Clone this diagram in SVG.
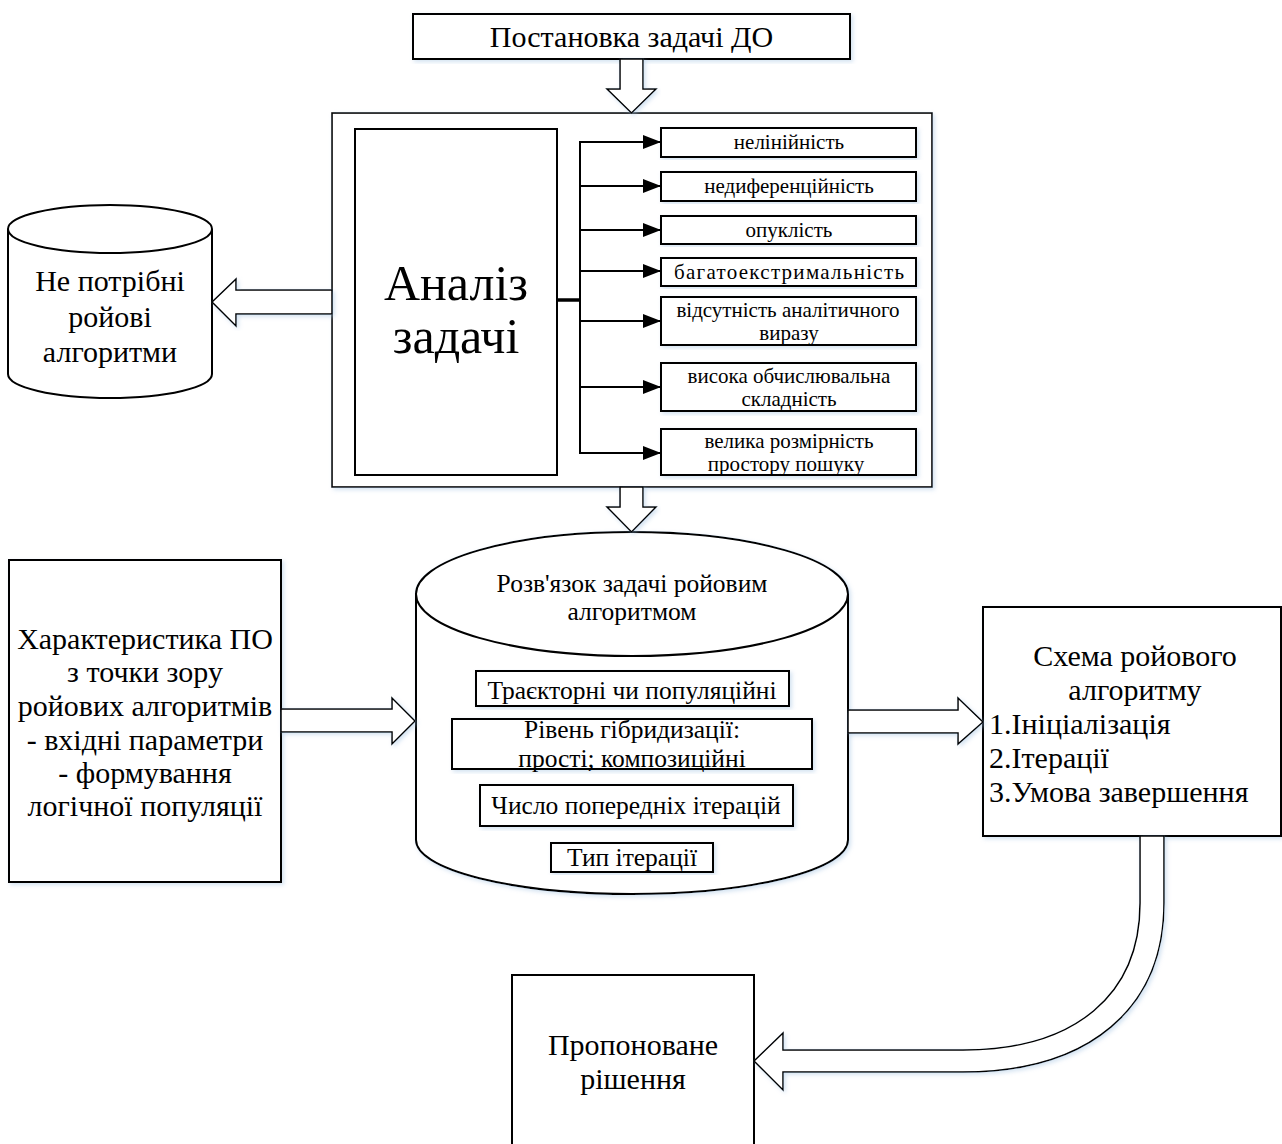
<svg xmlns="http://www.w3.org/2000/svg" width="1282" height="1144" viewBox="0 0 1282 1144">
  <style>
    .box { fill: #ffffff; stroke: #000000; stroke-width: 2; }
    .outer { fill: #ffffff; stroke: #000000; stroke-width: 1.6; }
    .barrow { fill: #ffffff; stroke: #000000; stroke-width: 1.5; stroke-linejoin: miter; }
    .line { fill: none; stroke: #000000; stroke-width: 2; }
    .t { font-family: "Liberation Serif", "Times New Roman", serif; fill: #000000; text-anchor: middle; }
    .big { font-size: 30px; }
    .mid { font-size: 25.5px; }
    .small { font-size: 21px; }
    .huge { font-size: 50px; }
    .left { text-anchor: start; }
  </style>
  <defs>
    <marker id="arr" viewBox="0 0 18 14" refX="18" refY="7" markerWidth="18" markerHeight="14" orient="auto" markerUnits="userSpaceOnUse">
      <path d="M0,0 L18,7 L0,14 Z" fill="#000"/>
    </marker>
    <filter id="sh" x="-5%" y="-5%" width="115%" height="115%">
      <feDropShadow dx="2" dy="2" stdDeviation="2" flood-color="#9dbfe0" flood-opacity="0.45"/>
    </filter>
  </defs>

  <!-- Top node -->
  <g id="postanovka">
    <rect class="box" x="413" y="14" width="437" height="45" filter="url(#sh)"/>
    <text class="t big" x="631.5" y="47">Постановка задачі ДО</text>
  </g>

  <!-- Analysis block -->
  <g id="analiz-outer">
    <rect class="outer" x="332" y="113" width="600" height="374" filter="url(#sh)"/>
  </g>
  <g id="analiz">
    <rect class="box" x="355" y="129" width="202" height="346"/>
    <text class="t huge" x="456" y="300">Аналіз</text>
    <text class="t huge" x="456" y="353">задачі</text>
  </g>

  <g id="f1">
    <rect class="box" x="661" y="128" width="255" height="29" filter="url(#sh)"/>
    <text class="t small" x="789" y="149">нелінійність</text>
  </g>
  <g id="f2">
    <rect class="box" x="661" y="172" width="255" height="29" filter="url(#sh)"/>
    <text class="t small" x="789" y="193">недиференційність</text>
  </g>
  <g id="f3">
    <rect class="box" x="661" y="216" width="255" height="28" filter="url(#sh)"/>
    <text class="t small" x="789" y="237">опуклість</text>
  </g>
  <g id="f4">
    <rect class="box" x="661" y="258" width="255" height="28" filter="url(#sh)"/>
    <text class="t small" x="789" y="279" textLength="230" lengthAdjust="spacing">багатоекстримальність</text>
  </g>
  <g id="f5">
    <rect class="box" x="661" y="297" width="255" height="48" filter="url(#sh)"/>
    <text class="t small" x="788" y="317">відсутність аналітичного</text>
    <text class="t small" x="789" y="340">виразу</text>
  </g>
  <g id="f6">
    <rect class="box" x="661" y="363" width="255" height="48" filter="url(#sh)"/>
    <text class="t small" x="789" y="383">висока обчислювальна</text>
    <text class="t small" x="789" y="406">складність</text>
  </g>
  <g id="f7">
    <rect class="box" x="661" y="429" width="255" height="46" filter="url(#sh)"/>
    <text class="t small" x="789" y="448">велика розмірність</text>
    <text class="t small" x="786" y="471">простору пошуку</text>
  </g>

  <!-- Left cylinder -->
  <g id="ne-potribni">
    <path class="box" d="M8,229 A102,24 0 0 1 212,229 L212,374 A102,24 0 0 1 8,374 Z"/>
    <path class="line" d="M8,229 A102,24 0 0 0 212,229"/>
    <text class="t big" x="110" y="291">Не потрібні</text>
    <text class="t big" x="110" y="327">ройові</text>
    <text class="t big" x="110" y="362">алгоритми</text>
  </g>

  <!-- Left characteristic box -->
  <g id="kharakterystyka">
    <rect class="box" x="9" y="560" width="272" height="322" filter="url(#sh)"/>
    <text class="t big" x="145" y="649">Характеристика ПО</text>
    <text class="t big" x="145" y="682">з точки зору</text>
    <text class="t big" x="145" y="716">ройових алгоритмів</text>
    <text class="t big" x="145" y="750">- вхідні параметри</text>
    <text class="t big" x="145" y="783">- формування</text>
    <text class="t big" x="145" y="816">логічної популяції</text>
  </g>

  <!-- Central cylinder -->
  <g id="rozvyazok">
    <path class="box" d="M416,594 A216,62 0 0 1 848,594 L848,840 A216,54 0 0 1 416,840 Z" filter="url(#sh)"/>
    <path class="line" d="M416,594 A216,62 0 0 0 848,594"/>
    <text class="t mid" x="632" y="592">Розв'язок задачі ройовим</text>
    <text class="t mid" x="632" y="620">алгоритмом</text>
  </g>
  <g id="c1">
    <rect class="box" x="476" y="671" width="313" height="35" filter="url(#sh)"/>
    <text class="t mid" x="632" y="699">Траєкторні чи популяційні</text>
  </g>
  <g id="c2">
    <rect class="box" x="452" y="719" width="360" height="50" filter="url(#sh)"/>
    <text class="t mid" x="632" y="738">Рівень гібридизації:</text>
    <text class="t mid" x="632" y="767">прості; композиційні</text>
  </g>
  <g id="c3">
    <rect class="box" x="480" y="785" width="313" height="41" filter="url(#sh)"/>
    <text class="t mid" x="636" y="814">Число попередніх ітерацій</text>
  </g>
  <g id="c4">
    <rect class="box" x="551" y="843" width="162" height="29" filter="url(#sh)"/>
    <text class="t mid" x="632" y="866">Тип ітерації</text>
  </g>

  <!-- Scheme box -->
  <g id="skhema">
    <rect class="box" x="983" y="607" width="298" height="229" filter="url(#sh)"/>
    <text class="t big" x="1135" y="666">Схема ройового</text>
    <text class="t big" x="1135" y="700">алгоритму</text>
    <text class="t big left" x="989" y="734">1.Ініціалізація</text>
    <text class="t big left" x="989" y="768">2.Ітерації</text>
    <text class="t big left" x="989" y="802">3.Умова завершення</text>
  </g>

  <!-- Proposed solution -->
  <g id="rishennya">
    <rect class="box" x="512" y="975" width="242" height="180"/>
    <text class="t big" x="633" y="1055">Пропоноване</text>
    <text class="t big" x="633" y="1089">рішення</text>
  </g>

  <!-- Connectors -->
  <g id="connectors">
    <polygon class="barrow" points="620,59 643,59 643,89 656,89 631.5,113 607,89 620,89" filter="url(#sh)"/>
    <polygon class="barrow" points="620,487 643,487 643,507 656,507 631.5,532 607,507 620,507" filter="url(#sh)"/>
    <polygon class="barrow" points="332,290 236,290 236,279 212,302 236,326 236,314 332,314" filter="url(#sh)"/>
    <polygon class="barrow" points="281,709 392,709 392,698 415,721 392,744 392,732 281,732" filter="url(#sh)"/>
    <polygon class="barrow" points="848,710 958,710 958,698 983,722 958,744 958,733 848,733" filter="url(#sh)"/>
    <path class="barrow" d="M1140,836 L1164,836 L1164,903 C1164,1008 1090,1072 963,1072 L783,1072 L783,1090 L754,1061 L783,1033 L783,1050 L963,1050 C1075,1050 1140,995 1140,903 Z" filter="url(#sh)"/>

    <line x1="557" y1="300" x2="581" y2="300" stroke="#000" stroke-width="3.5"/>
    <line class="line" x1="580" y1="141" x2="580" y2="454"/>
    <line class="line" x1="580" y1="142" x2="661" y2="142" marker-end="url(#arr)"/>
    <line class="line" x1="580" y1="186" x2="661" y2="186" marker-end="url(#arr)"/>
    <line class="line" x1="580" y1="230" x2="661" y2="230" marker-end="url(#arr)"/>
    <line class="line" x1="580" y1="271" x2="661" y2="271" marker-end="url(#arr)"/>
    <line class="line" x1="580" y1="321" x2="661" y2="321" marker-end="url(#arr)"/>
    <line class="line" x1="580" y1="387" x2="661" y2="387" marker-end="url(#arr)"/>
    <line class="line" x1="580" y1="453" x2="661" y2="453" marker-end="url(#arr)"/>
  </g>
</svg>
